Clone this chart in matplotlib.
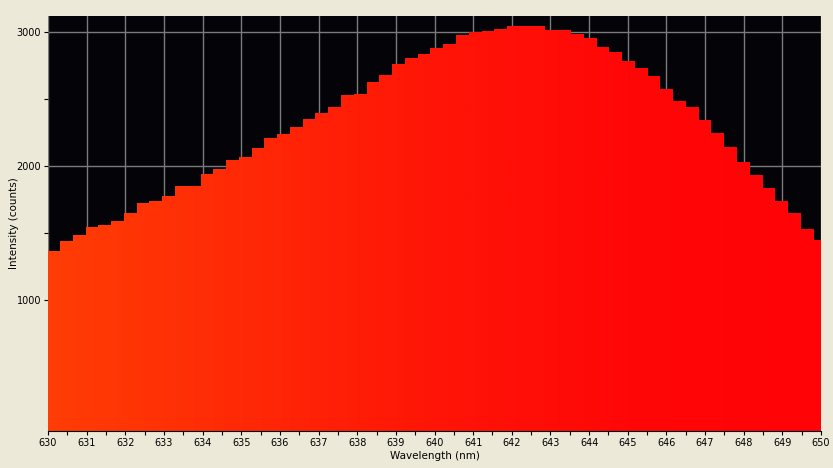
import numpy as np
import matplotlib.pyplot as plt
from matplotlib.colors import LinearSegmentedColormap

#-------------------------------------------------------------------------------
# Spectrum data
bin_start = 629.98      # nm, left edge of the first bin
bin_width = 0.3305      # nm per detector pixel

intensity = [1366, 1440, 1485, 1545, 1560, 1590, 1649, 1724, 1739, 1776,
             1851, 1851, 1940, 1978, 2045, 2067, 2134, 2209, 2239, 2291,
             2351, 2396, 2440, 2530, 2537, 2627, 2679, 2761, 2806, 2836,
             2881, 2910, 2978, 3000, 3007, 3022, 3045, 3045, 3045, 3015,
             3015, 2985, 2955, 2888, 2851, 2784, 2731, 2672, 2575, 2485,
             2440, 2343, 2246, 2142, 2030, 1933, 1836, 1739, 1649, 1530, 1448]

x_ticks = list(range(630, 651))
y_ticks = [1000, 2000, 3000]

#-------------------------------------------------------------------------------
bg = '#ECE9D8'
edges = bin_start + bin_width * np.arange(len(intensity) + 1)
vals = np.append(intensity, intensity[-1])

fig = plt.figure(figsize=(8.33, 4.68), dpi=100, facecolor=bg)
ax = fig.add_axes([48/833, 1 - 431/468, 773/833, 415/468])
ax.set_facecolor('#040308')

ymin, ymax = 22, 3120
ax.set_xlim(630, 650)
ax.set_ylim(ymin, ymax)

# step outline used as a clip path for the colour gradient
poly = ax.fill_between(edges, vals, ymin - 50, step='post', color='none', lw=0)

cmap = LinearSegmentedColormap.from_list('spec', [
    (0.0, '#FF3D05'), (0.5, '#FF1507'), (0.75, '#FF0707'), (1.0, '#FF0306')])
grad = np.linspace(0, 1, 400).reshape(1, -1)
im = ax.imshow(grad, cmap=cmap, aspect='auto', extent=(630, 650, ymin, 3200),
               origin='lower', zorder=2, interpolation='bilinear')
im.set_clip_path(poly.get_paths()[0], transform=ax.transData)

# Set ticks properties
ax.set_xticks(x_ticks)
ax.set_xticks(np.arange(630.5, 650, 1), minor=True)
ax.set_yticks(y_ticks)
ax.set_yticks([1500, 2500], minor=True)
ax.tick_params(axis='both', which='both', direction='out', length=3,
               width=0.8, labelsize=7, pad=2, colors='black')

# Set grid
ax.set_axisbelow(True)
ax.grid(True, which='major', color='#7A7A7A', lw=1)

for s in ['top', 'right', 'left']:
    ax.spines[s].set_visible(False)
ax.spines['bottom'].set_color('black')
ax.spines['bottom'].set_linewidth(0.8)
ax.spines['bottom'].set_zorder(3)

# Set axis labels
ax.set_xlabel('Wavelength (nm)', fontsize=7.5, labelpad=2)
ax.set_ylabel('Intensity (counts)', fontsize=7.5)
ax.yaxis.set_label_coords(-0.038, 0.5)

fig.savefig('out.png', dpi=100, facecolor=bg)
